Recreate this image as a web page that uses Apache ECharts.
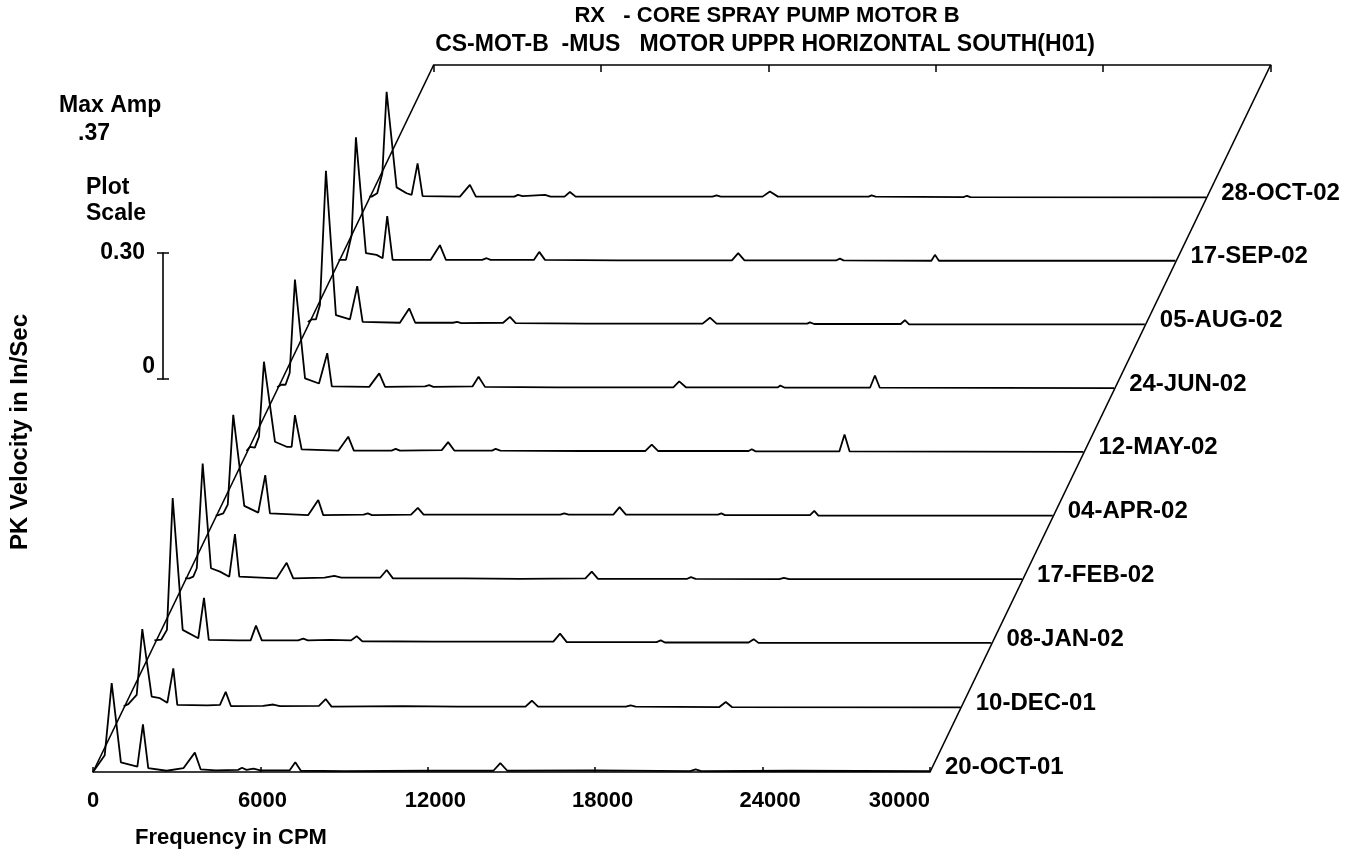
<!DOCTYPE html>
<html>
<head>
<meta charset="utf-8">
<script src="https://cdn.jsdelivr.net/npm/echarts@6/dist/echarts.min.js"></script>
<style>
html,body{margin:0;padding:0;background:#fff;}
#chart{width:1357px;height:856px;}
</style>
</head>
<body>
<div id="chart"></div>
<script>
// ---- data: [frequency CPM, PK velocity in/s] per measurement date ----
const dates = ['20-OCT-01','10-DEC-01','08-JAN-02','17-FEB-02','04-APR-02','12-MAY-02','24-JUN-02','05-AUG-02','17-SEP-02','28-OCT-02'];
const s20OCT01 = [[0,0],[420,0.04],[670,0.211],[1000,0.023],[1590,0.013],[1790,0.113],[1980,0.009],[2640,0.003],[3240,0.009],[3650,0.046],[3860,0.006],[4400,0.004],[5200,0.005],[5340,0.01],[5500,0.005],[5750,0.008],[6000,0.004],[7050,0.004],[7250,0.023],[7450,0.003],[9000,0.002],[12000,0.003],[14350,0.003],[14600,0.021],[14850,0.003],[18000,0.004],[21400,0.002],[21600,0.006],[21800,0.002],[25000,0.003],[30000,0.002]];
const s10DEC01 = [[0,0.005],[165,0.01],[466,0.032],[667,0.188],[1004,0.028],[1300,0.024],[1563,0.013],[1778,0.095],[1921,0.008],[3000,0.007],[3450,0.008],[3656,0.039],[3846,0.005],[5000,0.006],[5360,0.009],[5600,0.005],[7000,0.006],[7240,0.022],[7450,0.004],[10000,0.005],[12000,0.004],[14400,0.004],[14630,0.018],[14850,0.004],[18000,0.004],[18170,0.007],[18350,0.004],[21350,0.003],[21580,0.015],[21800,0.003],[30000,0.002]];
const s08JAN02 = [[0,0.01],[250,0.012],[450,0.035],[656,0.348],[1014,0.035],[1573,0.015],[1778,0.111],[1950,0.011],[3000,0.01],[3450,0.01],[3641,0.045],[3850,0.01],[5150,0.01],[5337,0.014],[5500,0.01],[6300,0.011],[7050,0.01],[7250,0.02],[7450,0.008],[10000,0.007],[12000,0.007],[14300,0.007],[14540,0.026],[14780,0.006],[18000,0.006],[18150,0.01],[18300,0.005],[21300,0.005],[21480,0.013],[21650,0.004],[30000,0.004]];
const s17FEB02 = [[0,0.006],[150,0.006],[294,0.01],[420,0.03],[631,0.279],[928,0.03],[1251,0.022],[1584,0.01],[1788,0.111],[1943,0.01],[3283,0.006],[3641,0.043],[3878,0.006],[5000,0.008],[5350,0.012],[5600,0.008],[7000,0.008],[7226,0.026],[7450,0.006],[10000,0.006],[12000,0.005],[14350,0.006],[14577,0.022],[14800,0.005],[18000,0.005],[18133,0.009],[18300,0.005],[21300,0.004],[21462,0.007],[21650,0.004],[30000,0.004]];
const s04APR02 = [[0,0.004],[90,0.005],[269,0.009],[430,0.03],[627,0.243],[1022,0.027],[1523,0.011],[1774,0.1],[1943,0.009],[3315,0.005],[3674,0.041],[3853,0.005],[5300,0.006],[5450,0.009],[5600,0.005],[7000,0.006],[7244,0.022],[7450,0.006],[10000,0.006],[12350,0.006],[12491,0.009],[12650,0.006],[14250,0.006],[14473,0.024],[14700,0.006],[18000,0.006],[18122,0.009],[18250,0.005],[21300,0.005],[21452,0.015],[21600,0.004],[30000,0.004]];
const s12MAY02 = [[0,0.006],[125,0.016],[300,0.014],[450,0.04],[627,0.218],[1022,0.028],[1441,0.016],[1620,0.016],[1738,0.091],[1978,0.01],[3300,0.007],[3649,0.04],[3850,0.007],[5200,0.007],[5350,0.011],[5500,0.007],[7000,0.008],[7229,0.027],[7450,0.007],[8800,0.007],[8932,0.011],[9100,0.007],[12000,0.006],[14300,0.006],[14527,0.021],[14750,0.006],[18000,0.006],[18111,0.01],[18250,0.005],[21250,0.005],[21437,0.045],[21620,0.005],[30000,0.004]];
const s24JUN02 = [[0,0.006],[150,0.012],[300,0.012],[450,0.04],[638,0.262],[1000,0.027],[1500,0.015],[1796,0.087],[1960,0.008],[3300,0.007],[3659,0.039],[3870,0.007],[5300,0.008],[5450,0.011],[5600,0.007],[7000,0.008],[7220,0.031],[7450,0.007],[10000,0.006],[14200,0.006],[14412,0.02],[14650,0.006],[17950,0.006],[18036,0.01],[18200,0.005],[21250,0.005],[21426,0.034],[21600,0.005],[30000,0.004]];
const s05AUG02 = [[0,0.01],[136,0.016],[290,0.016],[434,0.05],[649,0.369],[1007,0.026],[1509,0.016],[1771,0.095],[1964,0.01],[3300,0.008],[3634,0.042],[3850,0.008],[5200,0.008],[5350,0.01],[5500,0.007],[7000,0.008],[7244,0.022],[7450,0.007],[10000,0.006],[14150,0.006],[14412,0.02],[14650,0.006],[17900,0.006],[17996,0.009],[18150,0.005],[21250,0.005],[21400,0.014],[21550,0.004],[30000,0.004]];
const s17SEP02 = [[0,0.006],[50,0.006],[265,0.006],[470,0.065],[624,0.297],[982,0.022],[1366,0.018],[1581,0.01],[1746,0.11],[1939,0.006],[3300,0.006],[3634,0.041],[3850,0.006],[5150,0.006],[5308,0.01],[5450,0.006],[7000,0.006],[7194,0.025],[7400,0.006],[10000,0.005],[14100,0.005],[14326,0.022],[14550,0.005],[17850,0.005],[17971,0.009],[18100,0.005],[21250,0.004],[21376,0.018],[21520,0.004],[30000,0.004]];
const s28OCT02 = [[0,0.005],[86,0.005],[287,0.013],[470,0.06],[624,0.254],[982,0.027],[1340,0.013],[1520,0.009],[1734,0.084],[1914,0.006],[3251,0.005],[3609,0.033],[3824,0.005],[5200,0.005],[5330,0.009],[5500,0.006],[6300,0.009],[6500,0.005],[7000,0.005],[7194,0.016],[7400,0.005],[12300,0.005],[12450,0.008],[12600,0.005],[14100,0.005],[14362,0.017],[14650,0.005],[17900,0.005],[18007,0.008],[18150,0.005],[21300,0.004],[21423,0.007],[21550,0.004],[30000,0.003]];
const spectra = [s20OCT01,s10DEC01,s08JAN02,s17FEB02,s04APR02,s12MAY02,s24JUN02,s05AUG02,s17SEP02,s28OCT02];
const freqTicks = [0,6000,12000,18000,24000,30000];
const scaleTicks = [0,0.30];

// ---- layout constants ----
const F_MAX = 30000;
const X0 = 93, X1 = 930, Y0 = 772, PX_PER_UNIT = 421, BACK_Y = 65;
const STEP_F = 1100;       // horizontal offset per spectrum (CPM)
const STEP_A = 0.1513;     // vertical offset per spectrum (in/s)
const Y_MAX = 1.8;
const F_EXT = 45000;       // hidden data axis extent (room for the oblique offsets)
const backA = (Y0 - BACK_Y) / PX_PER_UNIT;
const backF = backA / STEP_A * STEP_F;
const pxPerF = (X1 - X0) / F_MAX;
const FONT = '"Liberation Sans", Arial, sans-serif';
const txt = {color:'#000', fontFamily: FONT, fontWeight:'bold', fontSize:22};
const dateTxt = {...txt, fontSize:24};

const series = spectra.map((s, i) => ({
  type:'line', name: dates[i], xAxisIndex:0, yAxisIndex:0,
  data: s.map(p => [p[0] + i*STEP_F, p[1] + i*STEP_A]),
  showSymbol:false, symbol:'none', clip:false, silent:true,
  lineStyle:{color:'#000', width:1.8},
  endLabel:{show:true, formatter: dates[i], offset:[7,-4], ...dateTxt}
}));
series.push({type:'line', xAxisIndex:0, yAxisIndex:0, data:[[0,0],[backF,backA]], showSymbol:false, clip:false, silent:true, lineStyle:{color:'#000', width:1.6}});
series.push({type:'line', xAxisIndex:0, yAxisIndex:0, data:[[F_MAX,0],[F_MAX+backF,backA]], showSymbol:false, clip:false, silent:true, lineStyle:{color:'#000', width:1.6}});

const tickLabel = v => {
  if (!freqTicks.includes(v)) return '';
  if (v === 0 || v === F_MAX) return String(v);
  return (v === 6000 ? '{s|' : '{m|') + v + '}';
};

const chart = echarts.init(document.getElementById('chart'), null, {renderer:'canvas'});
chart.setOption({
  animation:false,
  backgroundColor:'#fff',
  grid:[
    {left:X0, width:F_EXT*pxPerF, top:Y0 - Y_MAX*PX_PER_UNIT, height:Y_MAX*PX_PER_UNIT},
    {left:163, top:253, width:0.01, height:126},
    {left:X0 + backF*pxPerF, top:BACK_Y, width:X1-X0, height:0.01},
    {left:X0, top:Y0, width:X1-X0, height:0.01}
  ],
  xAxis:[
    {type:'value', gridIndex:0, min:0, max:F_EXT, show:false},
    {type:'value', gridIndex:1, show:false, min:0, max:1},
    {type:'value', gridIndex:2, min:0, max:F_MAX, interval:6000, position:'top',
     axisLine:{show:true, lineStyle:{color:'#000', width:1.6}},
     axisTick:{show:true, inside:true, length:7, lineStyle:{color:'#000', width:1.5}},
     axisLabel:{show:false}, splitLine:{show:false}},
    {type:'value', gridIndex:3, min:0, max:F_MAX, interval:6000, position:'bottom',
     axisLine:{show:true, lineStyle:{color:'#000', width:1.6}},
     axisTick:{show:true, inside:true, length:5, lineStyle:{color:'#000', width:1.5}},
     axisLabel:{margin:18, ...txt, alignMaxLabel:'right', formatter: tickLabel,
       rich:{m:{...txt, padding:[0,0,0,15]}, s:{...txt, padding:[0,0,0,4]}}},
     splitLine:{show:false}}
  ],
  yAxis:[
    {type:'value', gridIndex:0, min:0, max:Y_MAX, show:false},
    {type:'value', gridIndex:1, min:0, max:0.3, interval:0.3, position:'left',
     axisLine:{show:true, lineStyle:{color:'#000', width:1.6}},
     axisTick:{show:true, length:6, lineStyle:{color:'#000', width:1.5}},
     axisLabel:{margin:8, ...txt,
       formatter: v => v === scaleTicks[0] ? '{z|0}' : '{t|0.30}',
       rich:{z:{...txt, fontSize:23, padding:[0,0,24,0]}, t:{...txt, fontSize:23, padding:[0,10,0,0]}}},
     splitLine:{show:false}},
    {type:'value', gridIndex:1, min:0, max:0.3, interval:0.3, position:'right',
     axisLine:{show:false},
     axisTick:{show:true, length:6, lineStyle:{color:'#000', width:1.5}},
     axisLabel:{show:false}, splitLine:{show:false}},
    {type:'value', gridIndex:2, show:false, min:0, max:1},
    {type:'value', gridIndex:3, show:false, min:0, max:1}
  ],
  graphic:[
    {type:'text', x:767, y:16, style:{text:'RX   - CORE SPRAY PUMP MOTOR B', font:'bold 22px ' + FONT, fill:'#000', align:'center', verticalAlign:'middle'}},
    {type:'text', x:765, y:45, style:{text:'CS-MOT-B  -MUS   MOTOR UPPR HORIZONTAL SOUTH(H01)', font:'bold 23px ' + FONT, fill:'#000', align:'center', verticalAlign:'middle'}},
    {type:'text', x:59, y:106, style:{text:'Max Amp', font:'bold 23px ' + FONT, fill:'#000', align:'left', verticalAlign:'middle'}},
    {type:'text', x:78, y:134, style:{text:'.37', font:'bold 23px ' + FONT, fill:'#000', align:'left', verticalAlign:'middle'}},
    {type:'text', x:86, y:188, style:{text:'Plot', font:'bold 23px ' + FONT, fill:'#000', align:'left', verticalAlign:'middle'}},
    {type:'text', x:86, y:214, style:{text:'Scale', font:'bold 23px ' + FONT, fill:'#000', align:'left', verticalAlign:'middle'}},
    {type:'text', x:20, y:432, rotation:Math.PI/2, style:{text:'PK Velocity in In/Sec', font:'bold 24px ' + FONT, fill:'#000', align:'center', verticalAlign:'middle'}},
    {type:'text', x:135, y:838, style:{text:'Frequency in CPM', font:'bold 22px ' + FONT, fill:'#000', align:'left', verticalAlign:'middle'}}
  ],
  series: series
});
</script>
</body>
</html>
